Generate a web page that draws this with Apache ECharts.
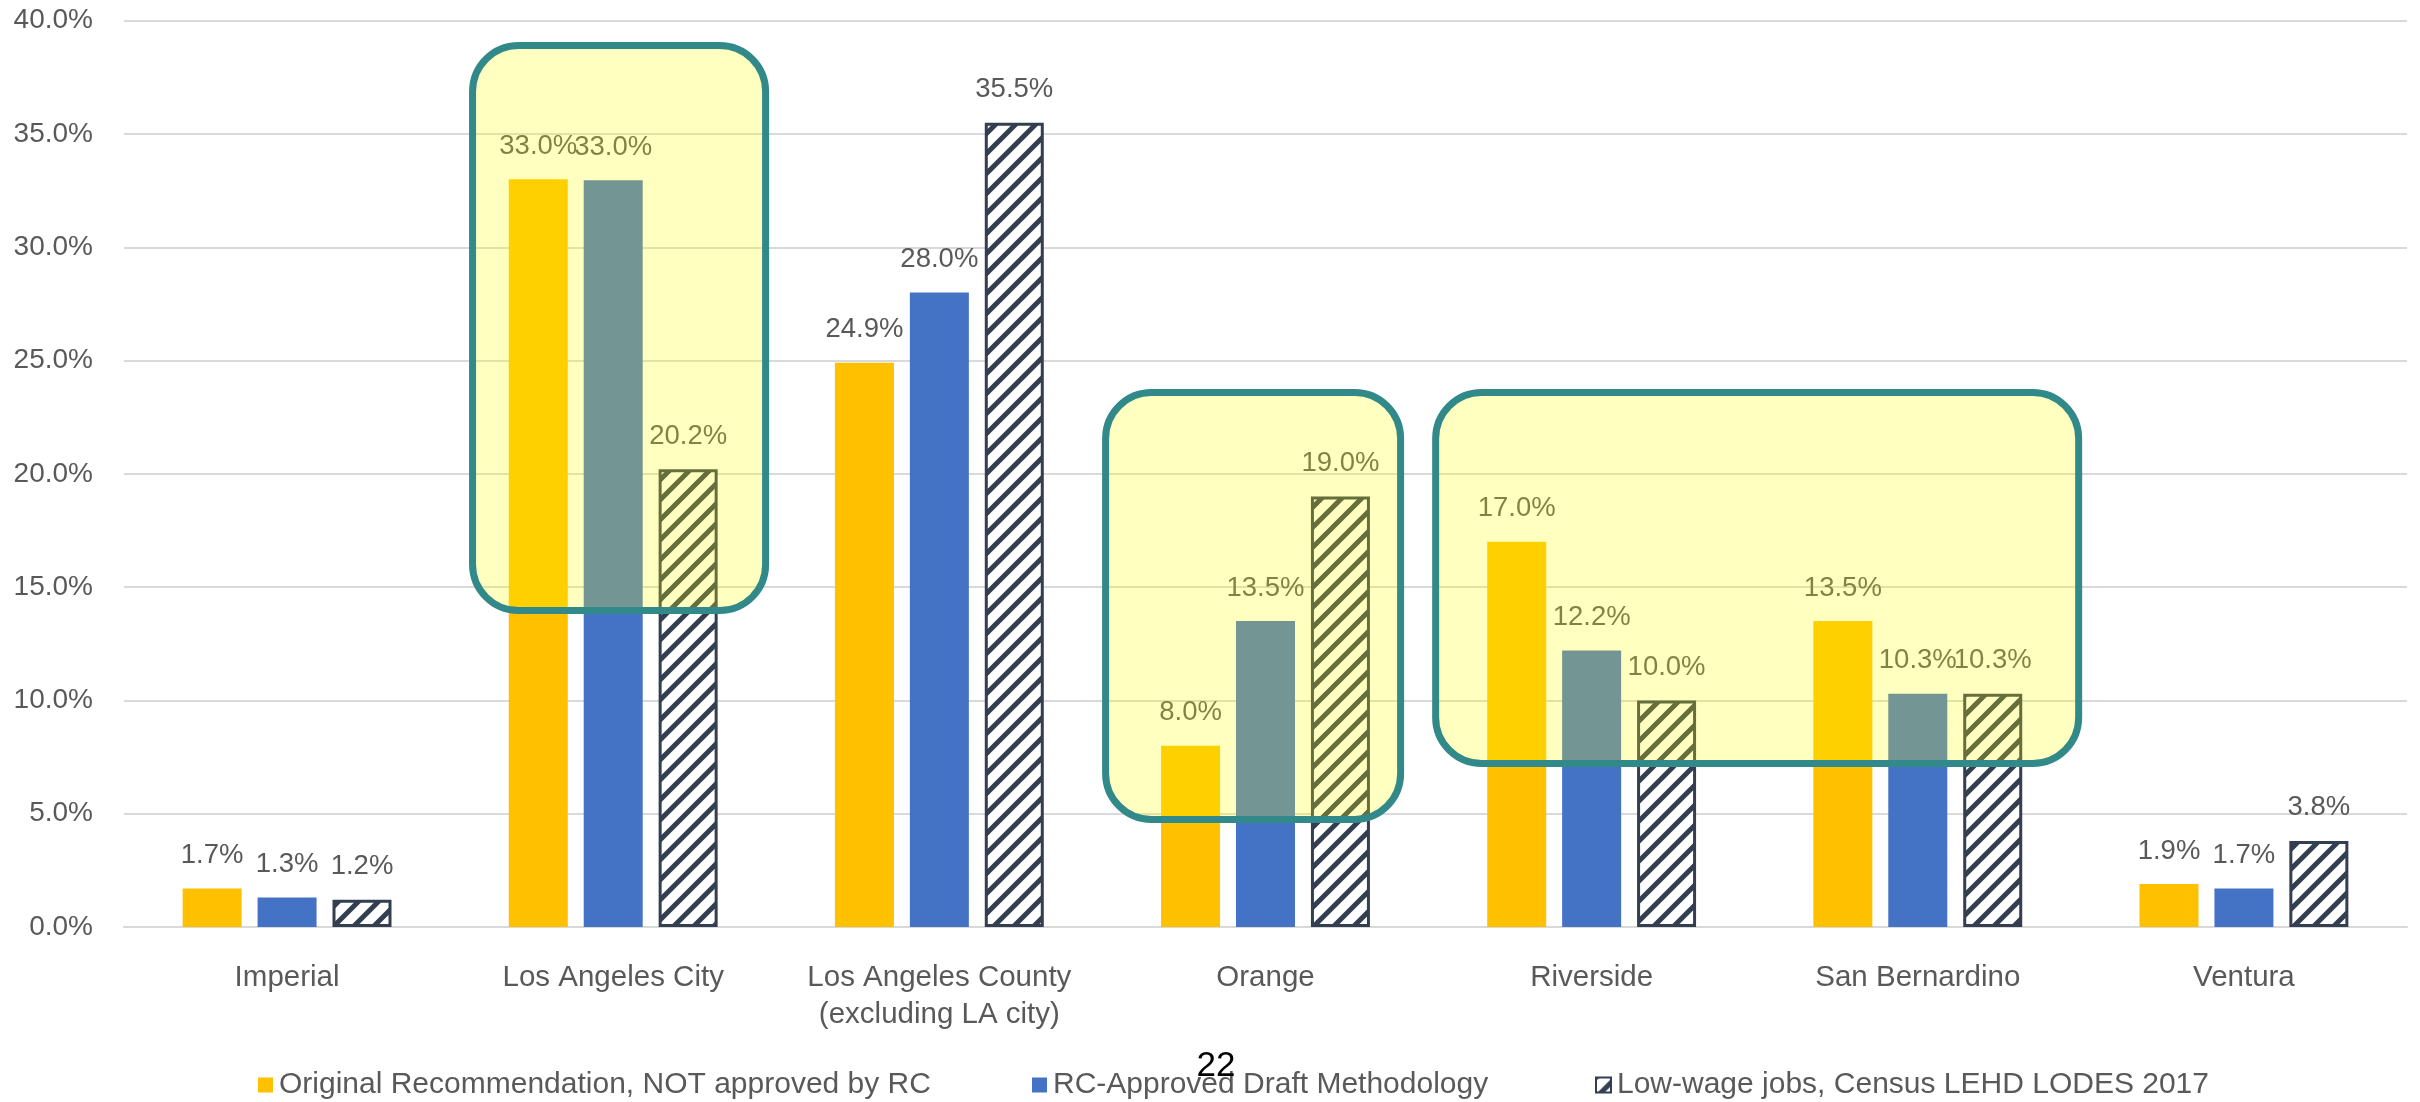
<!DOCTYPE html>
<html>
<head>
<meta charset="utf-8">
<script src="https://cdn.jsdelivr.net/npm/echarts@6/dist/echarts.min.js"></script>
<style>
html,body{margin:0;padding:0;background:#ffffff;}
#chart{width:2420px;height:1102px;}
</style>
</head>
<body>
<div id="chart"></div>
<script>
// ---- data ----
const categories = ['Imperial', 'Los Angeles City', 'Los Angeles County\n(excluding LA city)', 'Orange', 'Riverside', 'San Bernardino', 'Ventura'];
const seriesNames = ['Original Recommendation, NOT approved by RC', 'RC-Approved Draft Methodology', 'Low-wage jobs, Census LEHD LODES 2017'];
const originalRecommendation = [1.7, 33.0, 24.9, 8.0, 17.0, 13.5, 1.9];
const rcApprovedDraft = [1.3, 32.96, 28.0, 13.5, 12.2, 10.3, 1.7];
const lowWageJobs = [1.2, 20.2, 35.5, 19.0, 10.0, 10.3, 3.8];
const yAxisMin = 0;
const yAxisMax = 40;
const yAxisStep = 5;
const pageNumber = '22';

// highlight boxes (annotations): category span + value span
const highlightFrom = ['Los Angeles City', 'Orange', 'Riverside'];
const highlightTo = ['Los Angeles City', 'Orange', 'San Bernardino'];
const highlightTop = [39.06, 23.74, 23.74];
const highlightBottom = [13.81, 4.59, 7.06];

// ---- styles ----
const FONT = '"Liberation Sans", Arial, sans-serif';
const TEXT_GRAY = '#595959';
const fromOffset = [-0.442, -0.501, -0.489];
const toOffset = [0.478, 0.425, 0.504];
const legendLefts = [253, 1027, 1590];

function hatchCanvas() {
  const s = 20;
  const c = document.createElement('canvas');
  c.width = s; c.height = s;
  const g = c.getContext('2d');
  g.fillStyle = '#ffffff';
  g.fillRect(0, 0, s, s);
  g.strokeStyle = '#333F50';
  g.lineWidth = 5;
  g.beginPath();
  g.moveTo(0, s); g.lineTo(s, 0);
  g.moveTo(-s / 2, s / 2); g.lineTo(s / 2, -s / 2);
  g.moveTo(s / 2, 3 * s / 2); g.lineTo(3 * s / 2, s / 2);
  g.stroke();
  return c;
}

const labelCfg = {
  show: true,
  position: 'top',
  distance: 19,
  color: TEXT_GRAY,
  fontSize: 27.5,
  fontFamily: FONT,
  formatter: p => p.value.toFixed(1) + '%'
};

const chart = echarts.init(document.getElementById('chart'), null, {renderer: 'canvas'});

const legends = seriesNames.map((n, i) => ({
  data: [n],
  left: legendLefts[i],
  top: 1065,
  icon: 'rect',
  itemWidth: 15,
  itemHeight: 15,
  textStyle: {fontSize: 30, color: TEXT_GRAY, fontFamily: FONT, padding: [0, 0, 0, 1]}
}));

const option = {
  animation: false,
  backgroundColor: '#ffffff',
  textStyle: {fontFamily: FONT},
  grid: {left: 124, right: 13, top: 20.7, bottom: 175, containLabel: false, outerBoundsMode: 'none'},
  legend: legends,
  xAxis: {
    type: 'category',
    data: categories,
    axisTick: {show: false},
    axisLine: {show: true, lineStyle: {color: '#D9D9D9', width: 2}},
    axisLabel: {interval: 0, fontSize: 29.5, color: TEXT_GRAY, margin: 32, lineHeight: 37, fontFamily: FONT}
  },
  yAxis: {
    type: 'value',
    min: yAxisMin,
    max: yAxisMax,
    interval: yAxisStep,
    axisLine: {show: false},
    axisTick: {show: false},
    splitLine: {show: true, lineStyle: {color: '#D9D9D9', width: 2}},
    axisLabel: {fontSize: 28, color: TEXT_GRAY, margin: 31, fontFamily: FONT, formatter: v => v.toFixed(1) + '%'}
  },
  series: [
    {
      name: seriesNames[0], type: 'bar', data: originalRecommendation,
      barWidth: 59, barGap: '27%',
      itemStyle: {color: '#FFC000'},
      label: labelCfg
    },
    {
      name: seriesNames[1], type: 'bar', data: rcApprovedDraft,
      barWidth: 59, barGap: '27%',
      itemStyle: {color: '#4472C4'},
      label: labelCfg
    },
    {
      name: seriesNames[2], type: 'bar', data: lowWageJobs,
      barWidth: 59, barGap: '27%',
      itemStyle: {color: {image: hatchCanvas(), repeat: 'repeat'}, borderColor: '#333F50', borderWidth: 3},
      label: labelCfg
    }
  ]
};

chart.setOption(option);

// overlay highlight boxes positioned via the chart's own scales
const c0 = chart.convertToPixel({xAxisIndex: 0}, categories[0]);
const c1 = chart.convertToPixel({xAxisIndex: 0}, categories[1]);
const band = c1 - c0;
const sw = 7;
const graphics = [];
for (let i = 0; i < highlightFrom.length; i++) {
  const x0 = chart.convertToPixel({xAxisIndex: 0}, highlightFrom[i]) + fromOffset[i] * band;
  const x1 = chart.convertToPixel({xAxisIndex: 0}, highlightTo[i]) + toOffset[i] * band;
  const y0 = chart.convertToPixel({yAxisIndex: 0}, highlightTop[i]);
  const y1 = chart.convertToPixel({yAxisIndex: 0}, highlightBottom[i]);
  graphics.push({
    type: 'rect',
    z: 100,
    silent: true,
    shape: {x: x0 + sw / 2, y: y0 + sw / 2, width: x1 - x0 - sw, height: y1 - y0 - sw, r: 46},
    style: {fill: 'rgba(255,255,0,0.25)', stroke: '#31898A', lineWidth: sw}
  });
}
graphics.push({
  type: 'text',
  z: 200,
  silent: true,
  x: 1216,
  y: 1066,
  style: {text: pageNumber, font: '35px "Liberation Sans", Arial, sans-serif', fill: '#000000', align: 'center', verticalAlign: 'middle'}
});
chart.setOption({graphic: graphics});
</script>
</body>
</html>
